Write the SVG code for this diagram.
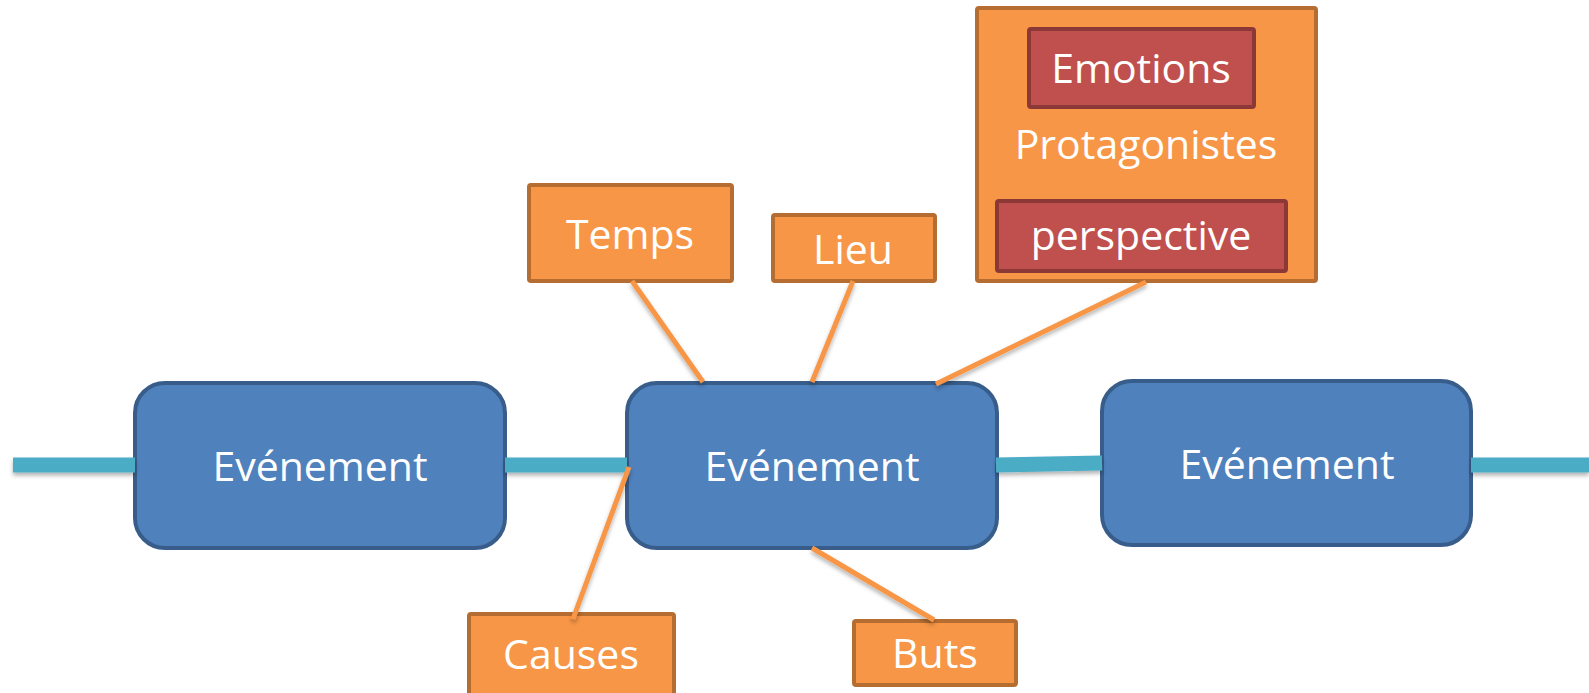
<svg xmlns="http://www.w3.org/2000/svg" width="1589" height="693" viewBox="0 0 1589 693">
<defs>
<filter id="sh" x="-10%" y="-50%" width="120%" height="300%">
<feDropShadow dx="0" dy="3" stdDeviation="2" flood-color="#000" flood-opacity="0.3"/>
</filter>
<style>
.ev{fill:#4F81BD;stroke:#385D8A;stroke-width:4}
.or{fill:#F79646;stroke:#B66D31;stroke-width:4}
.rd{fill:#C0504D;stroke:#8C3836;stroke-width:4}
.t{font-family:"Open Sans","Noto Sans","Liberation Sans",sans-serif;font-size:41px;fill:#FFFFFF;text-anchor:middle}
.tl{stroke:#4BACC6;stroke-width:15;fill:none}
.oc{stroke:#F79646;stroke-width:5;fill:none}
</style>
</defs>
<rect width="1589" height="693" fill="#FFFFFF"/>
<g id="ev1"><rect class="ev" x="135" y="383" width="370" height="165" rx="30"/><text class="t" x="320" y="481">Evénement</text></g>
<g id="ev2"><rect class="ev" x="627" y="383" width="370" height="165" rx="30"/><text class="t" x="812" y="481">Evénement</text></g>
<g id="ev3"><rect class="ev" x="1102" y="381" width="369" height="164" rx="30"/><text class="t" x="1287" y="479">Evénement</text></g>
<g id="protagonistes">
<rect class="or" x="977" y="8" width="339" height="273" rx="2"/>
<text class="t" x="1146" y="159">Protagonistes</text>
<g id="emotions"><rect class="rd" x="1029" y="29" width="225" height="78" rx="2"/><text class="t" x="1141" y="83">Emotions</text></g>
<g id="perspective"><rect class="rd" x="997" y="201" width="289" height="70" rx="2"/><text class="t" x="1141" y="250">perspective</text></g>
</g>
<g id="temps"><rect class="or" x="529" y="185" width="203" height="96" rx="2"/><text class="t" x="630" y="249">Temps</text></g>
<g id="lieu"><rect class="or" x="773" y="215" width="162" height="66" rx="2"/><text class="t" x="853" y="264">Lieu</text></g>
<g id="causes"><rect class="or" x="469" y="614" width="205" height="90" rx="2"/><text class="t" x="571" y="669">Causes</text></g>
<g id="buts"><rect class="or" x="854" y="621" width="162" height="64" rx="2"/><text class="t" x="935" y="668">Buts</text></g>
<g id="connectors" filter="url(#sh)">
<line class="tl" x1="13" y1="465" x2="135" y2="465"/>
<line class="tl" x1="505" y1="465" x2="627" y2="465"/>
<line class="tl" x1="996" y1="465" x2="1102" y2="463"/>
<line class="tl" x1="1471" y1="465" x2="1589" y2="465"/>
<line class="oc" x1="632" y1="281" x2="703" y2="382"/>
<line class="oc" x1="853" y1="281" x2="812" y2="382"/>
<line class="oc" x1="1146" y1="282" x2="936" y2="384"/>
<line class="oc" x1="629" y1="467" x2="573" y2="619"/>
<line class="oc" x1="812" y1="548" x2="934" y2="620"/>
</g>
</svg>
